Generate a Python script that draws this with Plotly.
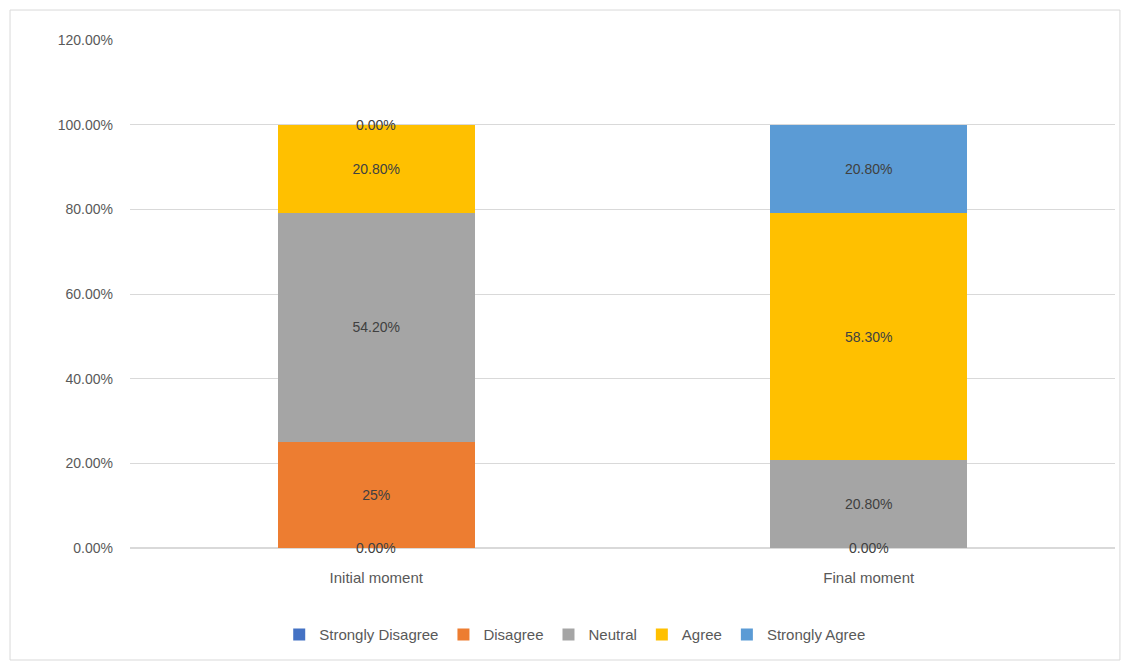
import plotly.graph_objects as go

categories = ["Initial moment", "Final moment"]
series_names = ["Strongly Disagree", "Disagree", "Neutral", "Agree", "Strongly Agree"]
colors = ["#4472C4", "#ED7D31", "#A5A5A5", "#FFC000", "#5B9BD5"]

strongly_disagree = [0.0, 0.0]
disagree = [0.25, 0.0]
neutral = [0.542, 0.208]
agree = [0.208, 0.583]
strongly_agree = [0.0, 0.208]

sd_labels = ["0.00%", "0.00%"]
d_labels = ["25%", "0.00%"]
n_labels = ["54.20%", "20.80%"]
a_labels = ["20.80%", "58.30%"]
sa_labels = ["0.00%", "20.80%"]

values = [strongly_disagree, disagree, neutral, agree, strongly_agree]
labels = [sd_labels, d_labels, n_labels, a_labels, sa_labels]

font_family = "Liberation Sans, Arial, sans-serif"

fig = go.Figure()
annotations = []
cum = [0.0] * len(categories)
for name, color, vals, labs in zip(series_names, colors, values, labels):
    txt = [l if v > 0 else "" for v, l in zip(vals, labs)]
    fig.add_trace(go.Bar(
        name=name, x=categories, y=vals, marker_color=color,
        marker_line_width=0, text=txt, textposition="inside",
        insidetextanchor="middle", textangle=0,
        textfont=dict(size=14, color="#404040", family=font_family),
        hoverinfo="skip",
    ))
    for i, (v, l) in enumerate(zip(vals, labs)):
        if v == 0 and not (name == "Strongly Disagree" and categories[i] == "Final moment"):
            annotations.append(dict(x=categories[i], y=cum[i], text=l, showarrow=False,
                                    xref="x", yref="y", yanchor="middle",
                                    font=dict(size=14, color="#404040", family=font_family)))
        cum[i] += v

fig.update_layout(
    barmode="stack",
    bargap=0.6,
    width=1129, height=671,
    margin=dict(l=130, r=14, t=40, b=123),
    paper_bgcolor="white", plot_bgcolor="white",
    font=dict(family=font_family, color="#595959", size=14),
    legend=dict(orientation="h", x=0.452, xanchor="center", y=-0.171, yanchor="middle",
                font=dict(size=15, color="#595959"), traceorder="normal",
                itemwidth=30, itemsizing="constant"),
    annotations=annotations,
    shapes=[dict(type="rect", xref="paper", yref="paper",
                 x0=-0.1218, x1=1.005, y0=-0.2205, y1=1.059,
                 line=dict(color="#d9d9d9", width=1))],
)
fig.update_yaxes(range=[0, 1.2], dtick=0.2, tickformat=".2%", showgrid=True,
                 gridcolor="#d9d9d9", zeroline=True, zerolinecolor="#d9d9d9",
                 ticklabelstandoff=16, tickfont=dict(size=14, color="#595959"))
fig.update_xaxes(showline=True, linecolor="#d9d9d9", ticklabelstandoff=16,
                 tickfont=dict(size=15, color="#595959"))

fig.write_html("out.html")
